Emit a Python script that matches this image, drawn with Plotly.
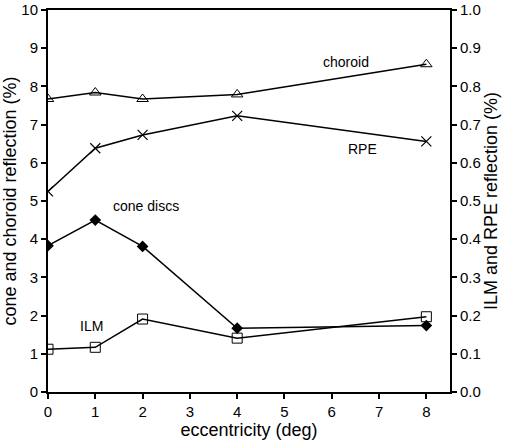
import plotly.graph_objects as go

ecc = [0, 1, 2, 4, 8]
choroid = [7.67, 7.84, 7.67, 7.79, 8.58]
cone_discs = [3.83, 4.5, 3.81, 1.67, 1.74]
rpe = [0.525, 0.638, 0.673, 0.723, 0.656]
ilm = [0.112, 0.117, 0.191, 0.141, 0.197]

x_ticks = list(range(0, 9))
left_ticks = list(range(0, 11))
right_ticks = [i / 10 for i in range(0, 11)]

font = "Liberation Sans, Arial, Helvetica, sans-serif"
line = dict(color="black", width=1.5)

fig = go.Figure()
fig.add_trace(go.Scatter(x=ecc, y=choroid, mode="lines+markers", line=line,
                         marker=dict(symbol="triangle-up-open", size=10, color="black", line=dict(width=1)),
                         yaxis="y"))
fig.add_trace(go.Scatter(x=ecc, y=cone_discs, mode="lines+markers", line=line,
                         marker=dict(symbol="diamond", size=9, color="black"),
                         yaxis="y"))
fig.add_trace(go.Scatter(x=ecc, y=rpe, mode="lines+markers", line=line,
                         marker=dict(symbol="x-thin-open", size=10, color="black", line=dict(width=1.2, color="black")),
                         yaxis="y2"))
fig.add_trace(go.Scatter(x=ecc, y=ilm, mode="lines+markers", line=line,
                         marker=dict(symbol="square-open", size=10, color="black", line=dict(width=1)),
                         yaxis="y2"))

ann = dict(showarrow=False, font=dict(family=font, size=14, color="black"), xref="x", yref="y")
fig.add_annotation(x=6.3, y=8.65, text="choroid", **ann)
fig.add_annotation(x=6.64, y=6.36, text="RPE", **ann)
fig.add_annotation(x=2.08, y=4.87, text="cone discs", **ann)
fig.add_annotation(x=0.91, y=1.73, text="ILM", **ann)

axis_common = dict(showline=True, linecolor="black", linewidth=2, ticks="outside", ticklen=5,
                   tickwidth=1.5, tickcolor="black", showgrid=False, zeroline=False, automargin=False)

fig.update_layout(
    width=510, height=443,
    margin=dict(l=48, r=60, t=10, b=51),
    plot_bgcolor="white", paper_bgcolor="white",
    showlegend=False,
    font=dict(family=font, size=15, color="black"),
    xaxis=dict(range=[0, 8.5], tickvals=x_ticks, mirror=True,
               title=dict(text="eccentricity (deg)", standoff=4), **axis_common),
    yaxis=dict(range=[0, 10], tickvals=left_ticks,
               title=dict(text="cone and choroid reflection (%)", standoff=4), **axis_common),
    yaxis2=dict(range=[0, 1], tickvals=right_ticks, tickformat=".1f", overlaying="y", side="right",
                title=dict(text="ILM and RPE reflection (%)", standoff=4), **axis_common),
)

fig.write_html("out.html", config={"displayModeBar": False},
               post_script="document.body.style.margin='0';")
